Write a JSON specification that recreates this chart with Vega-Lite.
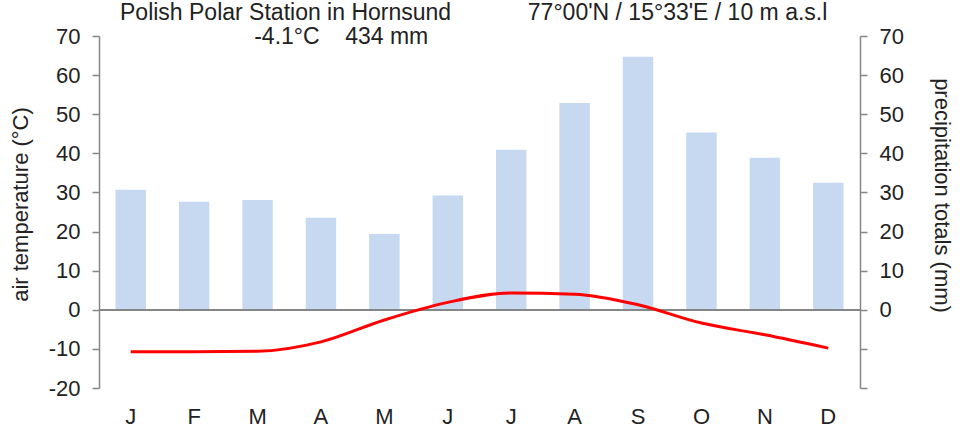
{
  "$schema": "https://vega.github.io/schema/vega-lite/v6.json",
  "width": 761,
  "height": 352,
  "autosize": {"type": "none"},
  "padding": {"left": 99, "top": 36, "right": 102, "bottom": 45},
  "background": "white",
  "config": {
    "view": {"stroke": null},
    "font": "Liberation Sans",
    "axis": {
      "labelFont": "Liberation Sans",
      "labelFontSize": 22,
      "labelColor": "#222222",
      "titleFont": "Liberation Sans",
      "titleFontSize": 22,
      "titleFontWeight": "normal",
      "titleColor": "#222222",
      "domainColor": "#868686",
      "domainWidth": 1.5,
      "tickColor": "#868686",
      "tickWidth": 1.5,
      "tickSize": 7,
      "labelPadding": 12,
      "grid": false
    }
  },
  "title": {
    "text": "Polish Polar Station in Hornsund\u00a0\u00a0\u00a0\u00a0\u00a0\u00a0\u00a0\u00a0\u00a0\u00a0\u00a0\u00a077°00'N / 15°33'E / 10 m a.s.l",
    "subtitle": "\u200b\u00a0\u00a0\u00a0\u00a0\u00a0\u00a0\u00a0\u00a0\u00a0\u00a0\u00a0\u00a0\u00a0\u00a0\u00a0\u00a0\u00a0\u00a0\u00a0\u00a0\u00a0-4.1°C\u00a0\u00a0\u00a0\u00a0434 mm",
    "anchor": "start",
    "frame": "group",
    "dx": 21,
    "offset": -24,
    "font": "Liberation Sans",
    "subtitleFont": "Liberation Sans",
    "fontSize": 23,
    "subtitleFontSize": 23,
    "fontWeight": "normal",
    "color": "#222222",
    "subtitleColor": "#222222",
    "subtitlePadding": 1
  },
  "data": {
    "values": [
      {"month": "Jan", "precip": 30.7, "temp": -10.7},
      {"month": "Feb", "precip": 27.6, "temp": -10.7},
      {"month": "Mar", "precip": 28.1, "temp": -10.6},
      {"month": "Apr", "precip": 23.5, "temp": -8.2},
      {"month": "May", "precip": 19.4, "temp": -2.6},
      {"month": "Jun", "precip": 29.2, "temp": 1.9},
      {"month": "Jul", "precip": 40.9, "temp": 4.3},
      {"month": "Aug", "precip": 52.9, "temp": 4.0},
      {"month": "Sep", "precip": 64.7, "temp": 1.3},
      {"month": "Oct", "precip": 45.3, "temp": -3.4},
      {"month": "Nov", "precip": 38.9, "temp": -6.4},
      {"month": "Dec", "precip": 32.5, "temp": -9.8}
    ]
  },
  "resolve": {"scale": {"y": "independent"}, "axis": {"y": "independent"}},
  "layer": [
    {
      "mark": {"type": "bar", "color": "#c6d9f0"},
      "encoding": {
        "x": {
          "field": "month", "type": "nominal", "sort": null,
          "scale": {"paddingInner": 0.52, "paddingOuter": 0.26},
          "axis": {"orient": "bottom", "title": null, "domain": false, "ticks": false, "labelAngle": 0, "labelPadding": 18, "labelExpr": "substring(datum.label, 0, 1)"}
        },
        "y": {
          "field": "precip", "type": "quantitative",
          "scale": {"domain": [-20, 70], "nice": false, "zero": false},
          "axis": {"orient": "right", "title": "precipitation totals (mm)", "values": [-20, -10, 0, 10, 20, 30, 40, 50, 60, 70], "labelExpr": "datum.value < 0 ? '' : datum.label", "titlePadding": 26, "titleY": 159}
        }
      }
    },
    {
      "mark": {"type": "rule", "color": "#868686", "strokeWidth": 1.5},
      "encoding": {
        "y": {"datum": 0, "type": "quantitative", "scale": {"domain": [-20, 70], "nice": false, "zero": false}, "axis": null}
      }
    },
    {
      "mark": {"type": "line", "color": "#ff0000", "strokeWidth": 3, "interpolate": "monotone"},
      "encoding": {
        "x": {
          "field": "month", "type": "nominal", "sort": null,
          "axis": {"orient": "bottom", "title": null, "domain": false, "ticks": false, "labelAngle": 0, "labelPadding": 18, "labelExpr": "substring(datum.label, 0, 1)"}
        },
        "y": {
          "field": "temp", "type": "quantitative",
          "scale": {"domain": [-20, 70], "nice": false, "zero": false},
          "axis": {"orient": "left", "title": "air temperature (°C)", "values": [-20, -10, 0, 10, 20, 30, 40, 50, 60, 70], "labelExpr": "replace(datum.label, '\u2212', '-')", "titlePadding": 16, "titleY": 168}
        }
      }
    }
  ]
}
